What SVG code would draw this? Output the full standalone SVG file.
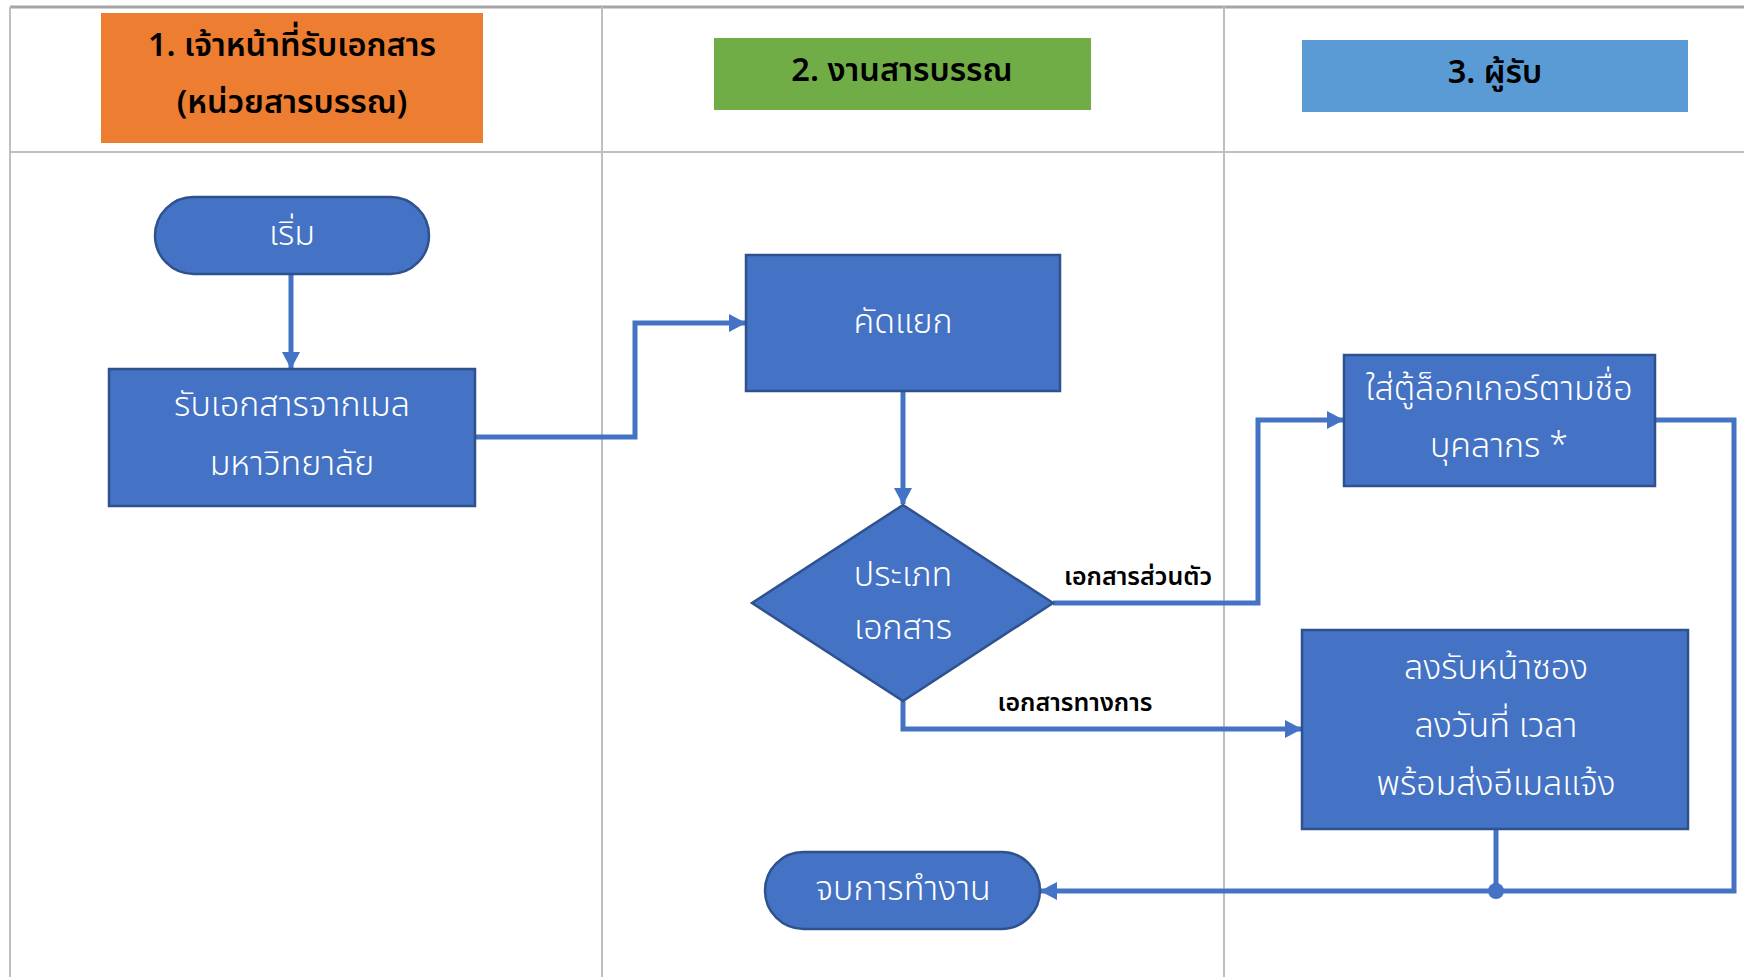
<svg xmlns="http://www.w3.org/2000/svg" width="1744" height="977" viewBox="0 0 1744 977">
<style>
.lane{stroke:#BFBFBF;stroke-width:2;fill:none}
.border{stroke:#A6A6A6;stroke-width:3;fill:none}
.node{fill:#4472C4;stroke:#2F528F;stroke-width:2.5}
.conn{fill:none;stroke:#4472C4;stroke-width:5}
.ht{font-family:"Noto Sans Thai","Noto Sans","DejaVu Sans",sans-serif;font-weight:600;font-size:32.5px;fill:#000;text-anchor:middle;dominant-baseline:central}
.nt{font-family:"Noto Sans Thai","Noto Sans","DejaVu Sans",sans-serif;font-weight:300;font-size:34px;fill:#FFF;text-anchor:middle;dominant-baseline:central}
.lt{font-family:"Noto Sans Thai","Noto Sans","DejaVu Sans",sans-serif;font-weight:600;font-size:25px;fill:#000;text-anchor:middle;dominant-baseline:central}
</style>
<defs>
<marker id="arr" markerUnits="userSpaceOnUse" markerWidth="20" markerHeight="20" refX="16" refY="9" orient="auto">
<path d="M0,0 L17,9 L0,18 Z" fill="#4472C4"/>
</marker>
</defs>
<g id="lanes">
<line class="border" x1="10" y1="7" x2="1744" y2="7"/>
<line class="lane" x1="10" y1="7" x2="10" y2="977"/>
<line class="lane" x1="10" y1="152" x2="1744" y2="152"/>
<line class="lane" x1="602" y1="7" x2="602" y2="977"/>
<line class="lane" x1="1224" y1="7" x2="1224" y2="977"/>
</g>
<g id="header1">
<rect x="101" y="13" width="382" height="130" fill="#ED7D31"/>
<text class="ht" x="292" y="46">1. เจ้าหน้าที่รับเอกสาร</text>
<text class="ht" x="292" y="103">(หน่วยสารบรรณ)</text>
</g>
<g id="header2">
<rect x="714" y="38" width="377" height="72" fill="#70AD47"/>
<text class="ht" x="902" y="71">2. งานสารบรรณ</text>
</g>
<g id="header3">
<rect x="1302" y="40" width="386" height="72" fill="#5B9BD5"/>
<text class="ht" x="1495" y="73">3. ผู้รับ</text>
</g>
<g id="connectors">
<path class="conn" d="M291,274 V368" marker-end="url(#arr)"/>
<path class="conn" d="M475,437 H635 V323 H745" marker-end="url(#arr)"/>
<path class="conn" d="M903,391 V504" marker-end="url(#arr)"/>
<path class="conn" d="M1053,603 H1258 V420 H1343" marker-end="url(#arr)"/>
<path class="conn" d="M903,701 V729 H1301" marker-end="url(#arr)"/>
<path class="conn" d="M1655,420 H1734 V891 H1041" marker-end="url(#arr)"/>
<path class="conn" d="M1496,829 V891"/>
<circle cx="1496" cy="891" r="8" fill="#4472C4"/>
<text class="lt" x="1138" y="577">เอกสารส่วนตัว</text>
<text class="lt" x="1075" y="703">เอกสารทางการ</text>
</g>
<g id="start">
<rect class="node" x="155" y="197" width="274" height="77" rx="38.5"/>
<text class="nt" x="292" y="234">เริ่ม</text>
</g>
<g id="receive">
<rect class="node" x="109" y="369" width="366" height="137"/>
<text class="nt" x="292" y="405">รับเอกสารจากเมล</text>
<text class="nt" x="292" y="464">มหาวิทยาลัย</text>
</g>
<g id="sort">
<rect class="node" x="746" y="255" width="314" height="136"/>
<text class="nt" x="903" y="322">คัดแยก</text>
</g>
<g id="decision">
<polygon class="node" points="903,505 1053,603 903,701 752,603"/>
<text class="nt" x="903" y="575">ประเภท</text>
<text class="nt" x="903" y="628">เอกสาร</text>
</g>
<g id="locker">
<rect class="node" x="1344" y="355" width="311" height="131"/>
<text class="nt" x="1499" y="389">ใส่ตู้ล็อกเกอร์ตามชื่อ</text>
<text class="nt" x="1499" y="446">บุคลากร *</text>
</g>
<g id="official">
<rect class="node" x="1302" y="630" width="386" height="199"/>
<text class="nt" x="1496" y="668">ลงรับหน้าซอง</text>
<text class="nt" x="1496" y="726">ลงวันที่ เวลา</text>
<text class="nt" x="1496" y="784">พร้อมส่งอีเมลแจ้ง</text>
</g>
<g id="end">
<rect class="node" x="765" y="852" width="275" height="77" rx="38.5"/>
<text class="nt" x="903" y="889">จบการทำงาน</text>
</g>
</svg>
